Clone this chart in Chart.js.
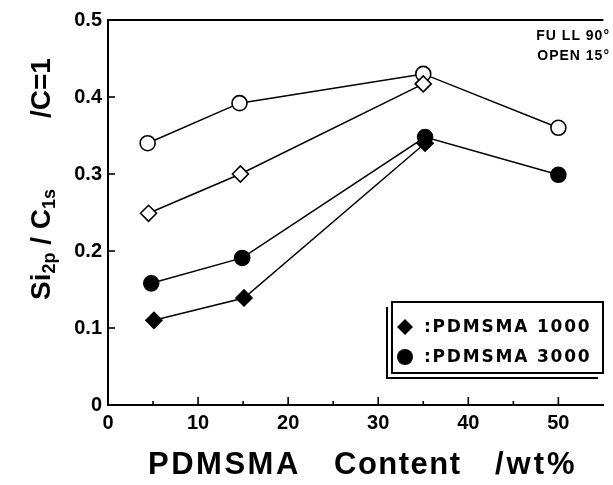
<!DOCTYPE html>
<html>
<head>
<meta charset="utf-8">
<script src="https://cdn.jsdelivr.net/npm/chart.js@4"></script>
<style>
  html, body { margin: 0; padding: 0; background: #fff; }
  #wrap { width: 613px; height: 485px; }
</style>
</head>
<body>
<div id="wrap"><canvas id="chart"></canvas></div>
<script>
// values (Si2p/C1s ratio vs PDMSMA content, wt%)
const xOpenCircle = [4.4, 14.6, 35.0, 50.0];
const yOpenCircle = [0.340, 0.392, 0.430, 0.360];   // PDMSMA 3000, 15 deg
const xOpenDiamond = [4.5, 14.7, 35.0];
const yOpenDiamond = [0.249, 0.300, 0.417];         // PDMSMA 1000, 15 deg
const xFullCircle = [4.8, 14.9, 35.2, 50.0];
const yFullCircle = [0.158, 0.191, 0.348, 0.299];   // PDMSMA 3000, 90 deg
const xFullDiamond = [5.1, 15.1, 35.2];
const yFullDiamond = [0.110, 0.139, 0.340];         // PDMSMA 1000, 90 deg

const legendLabels = [":PDMSMA 1000", ":PDMSMA 3000"];
const angleNotes = ["FU LL 90°", "OPEN 15°"];

const FONT = '"Liberation Sans", Arial, sans-serif';

function pts(xs, ys) {
  return xs.map((x, i) => ({ x: x, y: ys[i] }));
}

function series(label, xs, ys, style, filled) {
  return {
    label: label,
    data: pts(xs, ys),
    showLine: true,
    borderColor: "#000",
    borderWidth: 1.5,
    pointStyle: style,
    pointRadius: style === "rectRot" ? 8 : 7.5,
    pointBackgroundColor: filled ? "#000" : "#fff",
    pointBorderColor: "#000",
    pointBorderWidth: 1.6
  };
}

// draws ticks, frame top, texts, legend box
const decorations = {
  id: "decorations",
  afterDraw(chart) {
    const ctx = chart.ctx;
    const area = chart.chartArea;
    const xs = chart.scales.x;
    const ys = chart.scales.y;
    ctx.save();
    ctx.strokeStyle = "#000";
    ctx.fillStyle = "#000";

    // top frame line
    ctx.lineWidth = 2;
    ctx.beginPath();
    ctx.moveTo(area.left - 1, area.top);
    ctx.lineTo(area.right, area.top);
    ctx.stroke();

    // inward ticks
    ctx.lineWidth = 1.6;
    for (let v = 0; v <= 0.5001; v += 0.1) {
      const py = ys.getPixelForValue(v);
      ctx.beginPath();
      ctx.moveTo(area.left, py);
      ctx.lineTo(area.left + 7, py);
      ctx.stroke();
    }
    for (let v = 5; v <= 50; v += 5) {
      const px = xs.getPixelForValue(v);
      const len = v % 10 === 0 ? 8 : 4;
      ctx.beginPath();
      ctx.moveTo(px, area.bottom);
      ctx.lineTo(px, area.bottom - len);
      ctx.stroke();
    }

    // FULL / OPEN note
    ctx.font = "bold 14px " + FONT;
    ctx.letterSpacing = "1px";
    ctx.textAlign = "right";
    ctx.textBaseline = "alphabetic";
    ctx.fillText(angleNotes[0], 610, 40);
    ctx.fillText(angleNotes[1], 610, 60);

    // legend box with shadow edge
    ctx.lineWidth = 2;
    ctx.strokeRect(392, 302, 211, 71);
    ctx.beginPath();
    ctx.moveTo(387, 307);
    ctx.lineTo(387, 378);
    ctx.lineTo(598, 378);
    ctx.stroke();

    // legend symbols
    ctx.beginPath();
    ctx.moveTo(405, 319); ctx.lineTo(413, 327); ctx.lineTo(405, 335); ctx.lineTo(397, 327);
    ctx.closePath();
    ctx.fill();
    ctx.beginPath();
    ctx.arc(405, 357, 8, 0, Math.PI * 2);
    ctx.fill();

    ctx.font = 'bold 17px "DejaVu Sans", sans-serif';
    ctx.letterSpacing = "1.8px";
    ctx.textAlign = "left";
    ctx.textBaseline = "middle";
    ctx.fillText(legendLabels[0], 424, 328);
    ctx.fillText(legendLabels[1], 424, 358);

    // x axis title
    ctx.font = "bold 31px " + FONT;
    ctx.letterSpacing = "2.5px";
    ctx.textBaseline = "alphabetic";
    ctx.fillText("PDMSMA", 148, 474);
    ctx.letterSpacing = "1.5px";
    ctx.fillText("Content", 334, 474);
    ctx.letterSpacing = "3px";
    ctx.fillText("/wt%", 495, 474);

    // y axis title with subscripts, rotated
    ctx.letterSpacing = "0px";
    ctx.translate(50, 300);
    ctx.rotate(-Math.PI / 2);
    let cx = 0;
    const piece = (txt, size, dy) => {
      ctx.font = "bold " + size + "px " + FONT;
      ctx.fillText(txt, cx, dy);
      cx += ctx.measureText(txt).width;
    };
    piece("Si", 28, 0);
    piece("2p", 18, 5);
    piece(" / ", 28, 0);
    piece("C", 28, 0);
    piece("1s", 18, 5);
    cx = 300 - 118;
    piece("/C=1", 28, 0);

    ctx.restore();
  }
};

const tickFont = { family: FONT, size: 20, weight: "bold" };

new Chart(document.getElementById("chart"), {
  type: "scatter",
  data: {
    datasets: [
      series("PDMSMA 1000 (90)", xFullDiamond, yFullDiamond, "rectRot", true),
      series("PDMSMA 3000 (90)", xFullCircle, yFullCircle, "circle", true),
      series("PDMSMA 1000 (15)", xOpenDiamond, yOpenDiamond, "rectRot", false),
      series("PDMSMA 3000 (15)", xOpenCircle, yOpenCircle, "circle", false)
    ]
  },
  options: {
    responsive: true,
    maintainAspectRatio: false,
    animation: false,
    layout: { padding: { top: 20, right: 0, left: 0, bottom: 0 } },
    plugins: {
      legend: { display: false },
      tooltip: { enabled: false }
    },
    scales: {
      x: {
        type: "linear",
        min: 0,
        max: 55,
        grid: { display: false, drawTicks: false },
        border: { display: true, color: "#000", width: 2 },
        ticks: {
          stepSize: 10,
          includeBounds: false,
          padding: 6,
          color: "#000",
          font: tickFont,
          callback: v => (v % 10 === 0 && v <= 50 ? String(v) : "")
        },
        afterFit: s => { s.height = 80; }
      },
      y: {
        min: 0,
        max: 0.5,
        grid: { display: false, drawTicks: false },
        border: { display: true, color: "#000", width: 2 },
        ticks: {
          stepSize: 0.1,
          padding: 6,
          color: "#000",
          font: tickFont,
          callback: v => (v === 0 ? "0" : v.toFixed(1))
        },
        afterFit: s => { s.width = 108; }
      }
    }
  },
  plugins: [decorations]
});
</script>
</body>
</html>
